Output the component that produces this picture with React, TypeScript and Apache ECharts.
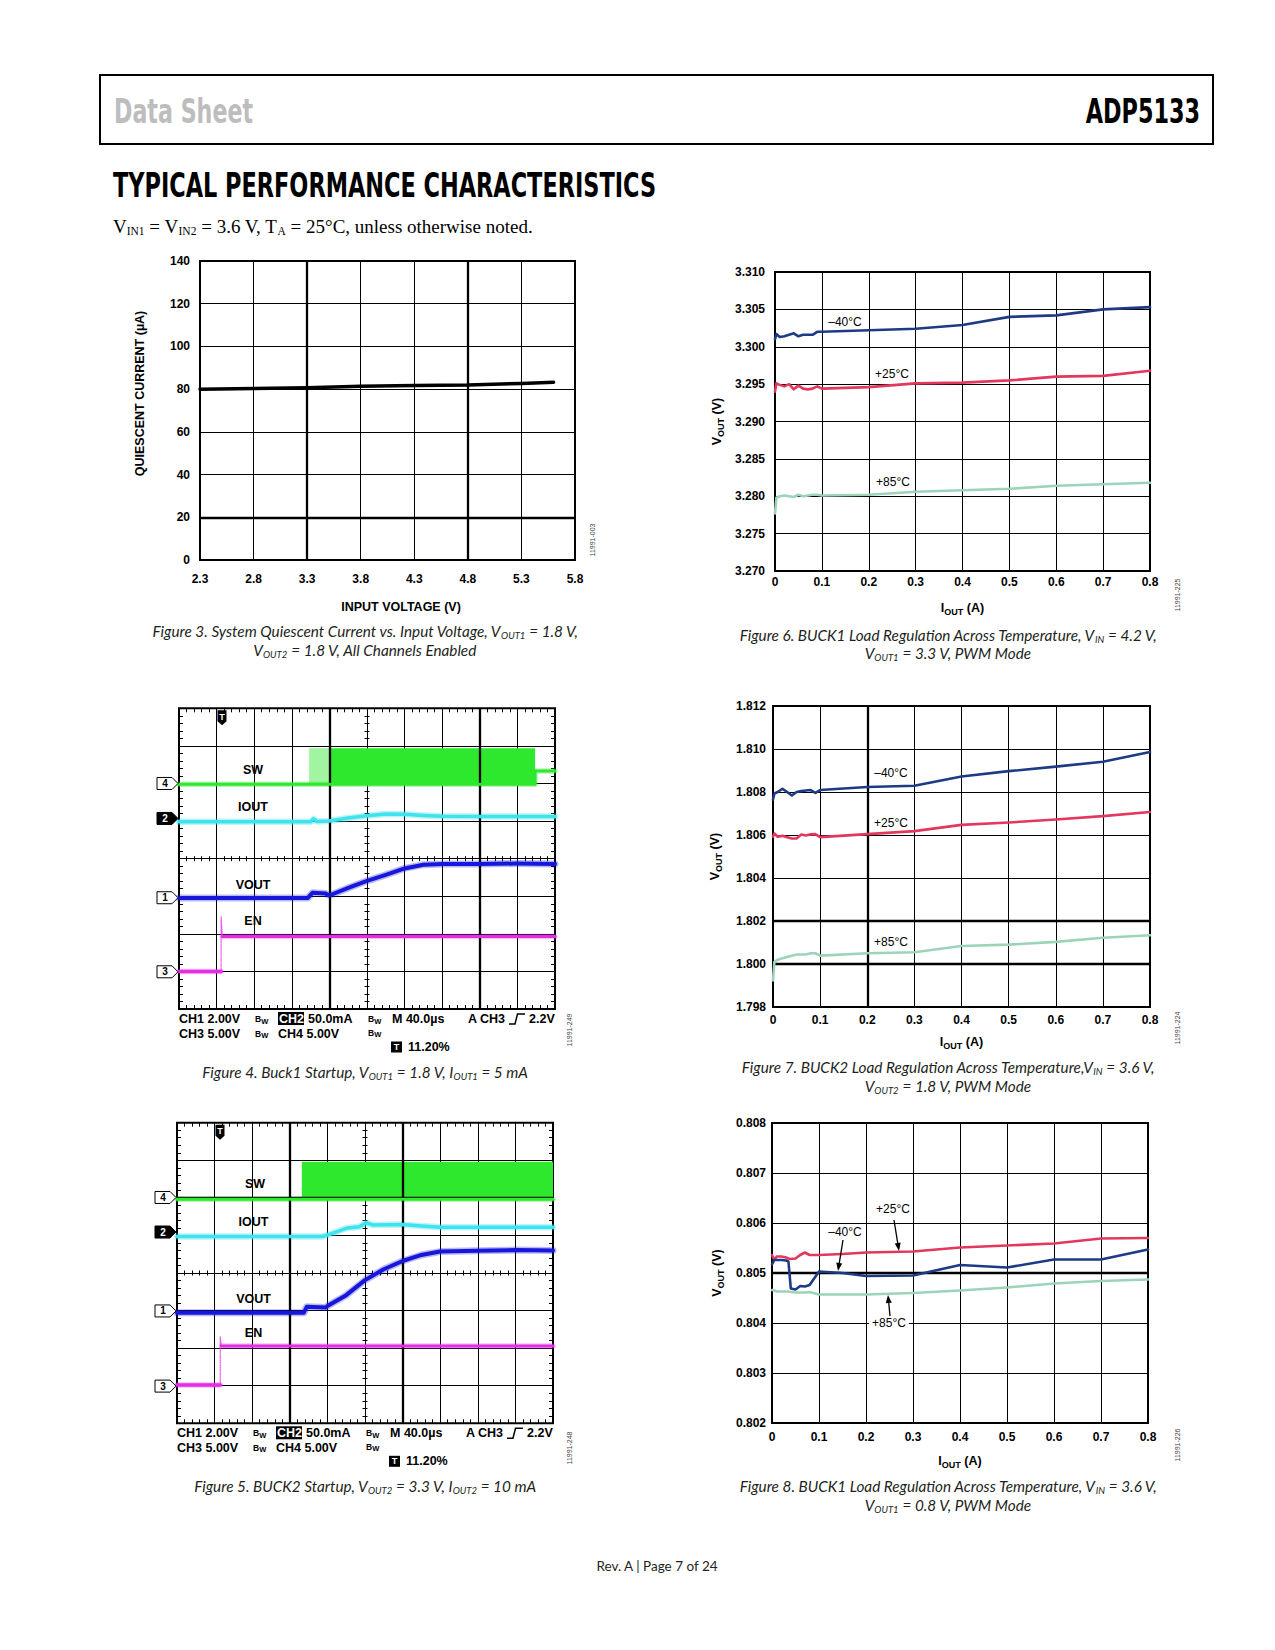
import React, { useEffect, useRef } from 'react';
import * as echarts from 'echarts';

// ---------------- Figure 3: quiescent current vs input voltage ----------------
const fig3Vin = [2.3, 2.8, 3.3, 3.8, 4.3, 4.8, 5.3, 5.6];
const fig3Iq = [80.0, 80.3, 80.7, 81.3, 81.7, 81.9, 82.7, 83.2];
const fig3XLabels = ['2.3', '2.8', '3.3', '3.8', '4.3', '4.8', '5.3', '5.8'];
const fig3YLabels = ['0', '20', '40', '60', '80', '100', '120', '140'];

// ---------------- Load regulation x labels ----------------
const ioutLabels = ['0', '0.1', '0.2', '0.3', '0.4', '0.5', '0.6', '0.7', '0.8'];

// ---------------- Figure 6: BUCK1 3.3 V ----------------
const f6Iout = [0, 0.003, 0.01, 0.02, 0.03, 0.04, 0.05, 0.06, 0.07, 0.08, 0.09, 0.1, 0.2, 0.3, 0.4, 0.5, 0.6, 0.7, 0.8];
const f6Vm40 = [3.3010, 3.3017, 3.3013, 3.3014, 3.3016, 3.3018, 3.3014, 3.3016, 3.3016, 3.3016, 3.3020, 3.3020, 3.3022, 3.3024, 3.3029, 3.3040, 3.3042, 3.3050, 3.3053];
const f6V25 = [3.2940, 3.2951, 3.2949, 3.2947, 3.2950, 3.2943, 3.2948, 3.2944, 3.2943, 3.2944, 3.2947, 3.2944, 3.2946, 3.2951, 3.2952, 3.2955, 3.2960, 3.2961, 3.2968];
const f6V85 = [3.2777, 3.2798, 3.2800, 3.2801, 3.2800, 3.2799, 3.2802, 3.2800, 3.2801, 3.2802, 3.2802, 3.2801, 3.2802, 3.2806, 3.2808, 3.2810, 3.2814, 3.2816, 3.2818];
const f6YLabels = ['3.270', '3.275', '3.280', '3.285', '3.290', '3.295', '3.300', '3.305', '3.310'];

// ---------------- Figure 7: BUCK2 1.8 V ----------------
const f7Iout = [0, 0.003, 0.01, 0.02, 0.03, 0.04, 0.05, 0.06, 0.07, 0.08, 0.09, 0.1, 0.2, 0.3, 0.4, 0.5, 0.6, 0.7, 0.8];
const f7Vm40 = [1.80765, 1.80793, 1.80800, 1.80815, 1.80800, 1.80784, 1.80800, 1.80804, 1.80807, 1.80809, 1.80796, 1.80809, 1.80823, 1.80829, 1.80872, 1.80897, 1.80918, 1.80941, 1.80986];
const f7V25 = [1.80592, 1.80607, 1.80592, 1.80596, 1.80590, 1.80584, 1.80584, 1.80602, 1.80598, 1.80603, 1.80604, 1.80590, 1.80604, 1.80618, 1.80647, 1.80658, 1.80672, 1.80688, 1.80707];
const f7V85 = [1.79924, 1.80010, 1.80020, 1.80027, 1.80033, 1.80038, 1.80044, 1.80044, 1.80044, 1.80050, 1.80050, 1.80039, 1.80050, 1.80055, 1.80084, 1.80090, 1.80103, 1.80122, 1.80134];
const f7YLabels = ['1.798', '1.800', '1.802', '1.804', '1.806', '1.808', '1.810', '1.812'];

// ---------------- Figure 8: BUCK1 0.8 V ----------------
const f8Iout = [0, 0.005, 0.01, 0.02, 0.03, 0.035, 0.04, 0.05, 0.06, 0.07, 0.08, 0.1, 0.15, 0.2, 0.3, 0.4, 0.5, 0.6, 0.7, 0.8];
const f8V25 = [0.80536, 0.80526, 0.80533, 0.80533, 0.80531, 0.80529, 0.80528, 0.80529, 0.80536, 0.80541, 0.80536, 0.80536, 0.80538, 0.80541, 0.80543, 0.80551, 0.80555, 0.80559, 0.80569, 0.80570];
const f8Vm40 = [0.80517, 0.80526, 0.80526, 0.80526, 0.80525, 0.80523, 0.80469, 0.80467, 0.80474, 0.80473, 0.80476, 0.80503, 0.80500, 0.80494, 0.80495, 0.80516, 0.80511, 0.80527, 0.80527, 0.80547];
const f8V85 = [0.80466, 0.80465, 0.80463, 0.80463, 0.80463, 0.80463, 0.80462, 0.80461, 0.80461, 0.80461, 0.80462, 0.80457, 0.80457, 0.80457, 0.80460, 0.80465, 0.80471, 0.80479, 0.80484, 0.80487];
const f8YLabels = ['0.802', '0.803', '0.804', '0.805', '0.806', '0.807', '0.808'];

// ---------------- Figure 4 scope (divisions: x 0..10, y 0..8) ----------------
const f4SwT = [0, 3.46, 9.47, 9.47, 10];
const f4SwV = [5.98, 5.98, 5.98, 6.33, 6.33];
const f4SwBursts = [[3.46, 3.99, 5.98, 6.94, 0.45], [3.99, 9.47, 5.98, 6.94, 1]];
const f4IoutT = [0, 3.5, 3.58, 3.66, 3.99, 4.5, 5.0, 5.5, 6.0, 6.5, 7.0, 8.0, 9.0, 10];
const f4IoutV = [4.98, 4.98, 5.06, 4.99, 5.0, 5.08, 5.14, 5.19, 5.18, 5.15, 5.13, 5.12, 5.12, 5.12];
const f4VoutT = [0, 3.42, 3.55, 3.9, 4.0, 4.5, 5.0, 5.5, 6.0, 6.5, 7.0, 8.0, 9.0, 10];
const f4VoutV = [2.95, 2.95, 3.09, 3.07, 3.02, 3.22, 3.41, 3.57, 3.74, 3.84, 3.86, 3.86, 3.87, 3.86];
const f4EnLowT = [0, 1.12];
const f4EnLowV = [1.0, 1.0];
const f4EnEdgeT = [1.12, 1.12, 1.15];
const f4EnEdgeV = [1.0, 2.46, 1.93];
const f4EnHighT = [1.15, 10];
const f4EnHighV = [1.93, 1.93];

// ---------------- Figure 5 scope ----------------
const f5SwT = [0, 3.32, 10];
const f5SwV = [5.96, 5.96, 5.96];
const f5SwBursts = [[3.32, 10, 5.96, 6.96, 1]];
const f5IoutT = [0, 3.86, 4.0, 4.5, 4.85, 5.03, 5.2, 6.0, 6.5, 7.0, 8.0, 9.0, 10];
const f5IoutV = [4.97, 4.97, 5.01, 5.19, 5.23, 5.34, 5.28, 5.29, 5.25, 5.22, 5.22, 5.22, 5.22];
const f5VoutT = [0, 3.37, 3.45, 3.95, 4.0, 4.5, 5.0, 5.5, 6.0, 6.5, 7.0, 8.0, 9.0, 10];
const f5VoutV = [2.94, 2.94, 3.1, 3.08, 3.12, 3.41, 3.81, 4.10, 4.32, 4.48, 4.57, 4.59, 4.61, 4.60];
const f5EnLowT = [0, 1.15];
const f5EnLowV = [1.02, 1.02];
const f5EnEdgeT = [1.15, 1.15, 1.18];
const f5EnEdgeV = [1.02, 2.3, 2.06];
const f5EnHighT = [1.18, 10];
const f5EnHighV = [2.06, 2.06];

// ---------------- styles ----------------
const FONT = '"Liberation Sans", Arial, Helvetica, sans-serif';
const NARROW = '"DejaVu Sans Condensed", "Liberation Sans", sans-serif';
const CAPF = 'Lato, "Noto Sans", sans-serif';
const SERIF = '"Liberation Serif", "DejaVu Serif", serif';
const C_M40 = '#1d3b85';
const C_25 = '#e2385d';
const C_85 = '#9dd4b9';
const C_SW = '#2ee82e';
const C_IOUT = '#3fe3ee';
const C_VOUT = '#1717dc';
const C_EN = '#e42ee4';

function sub(str: string) {
  return str
    .split(/(_\{[^}]*\})/)
    .filter((s) => s.length)
    .map((s) => (s.startsWith('_{') ? `{s|${s.slice(2, -1)}}` : `{m|${s}}`))
    .join('');
}

function txt(text: string, x: number, y: number, opt: any = {}) {
  return {
    type: 'text',
    x,
    y,
    z: 100,
    rotation: opt.rotation || 0,
    scaleX: opt.scaleX || 1,
    style: {
      text,
      fill: opt.color || '#000',
      fontFamily: opt.family || FONT,
      fontSize: opt.size || 12,
      fontWeight: opt.weight || 'normal',
      fontStyle: opt.fstyle || 'normal',
      align: opt.align || 'center',
      verticalAlign: opt.valign || 'middle',
      textAlign: opt.align || 'center',
      textVerticalAlign: opt.valign || 'middle',
      backgroundColor: opt.bg,
      padding: opt.pad,
      rich: opt.rich,
    },
  };
}

function caption(text: string, cx: number, cy: number) {
  return txt(sub(text), cx, cy, {
    rich: {
      m: { fontFamily: CAPF, fontStyle: 'italic', fontSize: 15.3, lineHeight: 19, fill: '#231f20' },
      s: { fontFamily: CAPF, fontStyle: 'italic', fontSize: 9.5, lineHeight: 12, verticalAlign: 'bottom', fill: '#231f20' },
    },
  });
}

function idTag(text: string, x: number, y: number) {
  return txt(text, x, y, { size: 7, color: '#444', rotation: Math.PI / 2 });
}

function arrow(x1: number, y1: number, x2: number, y2: number) {
  const dx = x2 - x1;
  const dy = y2 - y1;
  const L = Math.hypot(dx, dy);
  const ux = dx / L;
  const uy = dy / L;
  const hl = 8;
  const hw = 3;
  const bx = x2 - ux * hl;
  const by = y2 - uy * hl;
  return [
    { type: 'line', z: 100, shape: { x1, y1, x2: bx, y2: by }, style: { stroke: '#000', lineWidth: 1.3 } },
    {
      type: 'polygon',
      z: 100,
      shape: { points: [[x2, y2], [bx - uy * hw, by + ux * hw], [bx + uy * hw, by - ux * hw]] },
      style: { fill: '#000' },
    },
  ];
}

const nameRich = {
  m: { fontFamily: FONT, fontWeight: 'bold', fontSize: 12.5, lineHeight: 16, color: '#000' },
  s: { fontFamily: FONT, fontWeight: 'bold', fontSize: 9, lineHeight: 10, verticalAlign: 'bottom', color: '#000' },
};

function addPlot(o: any, c: any) {
  const gi = o.grid.length;
  o.grid.push({
    left: c.left, top: c.top, width: c.width, height: c.height,
    show: true, borderColor: '#000', borderWidth: 2, backgroundColor: 'rgba(0,0,0,0)',
    containLabel: false, outerBoundsMode: 'none',
  });
  const lbl = (labels: string[], step: number, margin: number) => ({
    margin, color: '#000', fontFamily: FONT, fontWeight: 'bold', fontSize: 12, hideOverlap: false,
    formatter: (v: number) => labels[Math.round(v / step)] ?? '',
  });
  const xi = o.xAxis.length;
  o.xAxis.push({
    type: 'value', gridIndex: gi, min: 0, max: c.xMax, interval: c.xInt,
    axisLine: { show: false, onZero: false }, axisTick: { show: false },
    splitLine: { show: true, lineStyle: { color: '#000', width: 1 } },
    axisLabel: lbl(c.xLabels, c.xInt, c.xLabelMargin),
    name: c.xName, nameLocation: 'middle', nameGap: c.xNameGap, nameMoveOverlap: false,
    nameTextStyle: { color: '#000', fontFamily: FONT, fontWeight: 'bold', fontSize: 12.5, padding: [0, 0, 0, c.xPad || 0], rich: nameRich },
  });
  const yi = o.yAxis.length;
  o.yAxis.push({
    type: 'value', gridIndex: gi, min: 0, max: c.yMax, interval: c.yInt,
    axisLine: { show: false, onZero: false }, axisTick: { show: false },
    splitLine: { show: true, lineStyle: { color: '#000', width: 1 } },
    axisLabel: lbl(c.yLabels, c.yInt, c.yLabelMargin),
    name: c.yName, nameLocation: 'middle', nameGap: c.yNameGap, nameMoveOverlap: false,
    nameTextStyle: { color: '#000', fontFamily: FONT, fontWeight: 'bold', fontSize: 12.5, padding: [0, 0, 0, c.yPad || 0], rich: nameRich },
  });
  if (c.thickX.length || c.thickY.length) {
    o.series.push({
      type: 'line', xAxisIndex: xi, yAxisIndex: yi, data: [[0, 0]], symbol: 'none',
      lineStyle: { opacity: 0 }, silent: true, z: 2,
      markLine: {
        silent: true, symbol: ['none', 'none'], label: { show: false }, animation: false,
        lineStyle: { color: '#000', width: 2.3, type: 'solid' },
        data: [...c.thickX.map((v: number) => ({ xAxis: v })), ...c.thickY.map((v: number) => ({ yAxis: v }))],
      },
    });
  }
  return { xi, yi };
}

function addCurve(o: any, xi: number, yi: number, data: number[][], color: string, width: number, extra: any = {}) {
  o.series.push({
    type: 'line', xAxisIndex: xi, yAxisIndex: yi, data, symbol: 'none', silent: true, z: extra.z || 5,
    lineStyle: { color, width, cap: 'round', join: 'round', ...(extra.lineStyle || {}) },
    itemStyle: { color },
  });
}

function addScope(o: any, c: any) {
  const gi = o.grid.length;
  o.grid.push({
    left: c.left, top: c.top, width: c.width, height: c.height,
    show: true, borderColor: '#000', borderWidth: 2, backgroundColor: 'rgba(0,0,0,0)',
    containLabel: false, outerBoundsMode: 'none',
  });
  const tick = (inside: boolean, len: number) => ({ show: true, inside, length: len, lineStyle: { color: '#000', width: 1 } });
  const minor = (len: number) => ({ show: true, splitNumber: 5, length: len, lineStyle: { color: '#000', width: 1 } });
  const base = { type: 'value', gridIndex: gi, interval: 1, axisLabel: { show: false }, axisLine: { show: false, onZero: false }, splitLine: { show: false } };
  const grid1 = { show: true, lineStyle: { color: '#000', width: 1 } };
  const xi = o.xAxis.length;
  o.xAxis.push({ ...base, min: 0, max: 10, position: 'bottom', splitLine: grid1, axisTick: tick(true, 4), minorTick: minor(4) });
  o.xAxis.push({ ...base, min: 0, max: 10, position: 'top', axisTick: tick(true, 4), minorTick: minor(4) });
  o.xAxis.push({ ...base, min: 0, max: 10, position: 'bottom', offset: -c.height / 2, axisTick: tick(true, 2.5), minorTick: minor(2.5) });
  o.xAxis.push({ ...base, min: 0, max: 10, position: 'bottom', offset: -c.height / 2, axisTick: tick(false, 2.5), minorTick: minor(2.5) });
  const yi = o.yAxis.length;
  o.yAxis.push({ ...base, min: 0, max: 8, position: 'left', splitLine: grid1, axisTick: tick(true, 4), minorTick: minor(4) });
  o.yAxis.push({ ...base, min: 0, max: 8, position: 'right', axisTick: tick(true, 4), minorTick: minor(4) });
  o.yAxis.push({ ...base, min: 0, max: 8, position: 'left', offset: -c.width / 2, axisTick: tick(true, 2.5), minorTick: minor(2.5) });
  o.yAxis.push({ ...base, min: 0, max: 8, position: 'left', offset: -c.width / 2, axisTick: tick(false, 2.5), minorTick: minor(2.5) });

  o.series.push({
    type: 'line', xAxisIndex: xi, yAxisIndex: yi, data: [[0, 0]], symbol: 'none',
    lineStyle: { opacity: 0 }, silent: true, z: 2,
    markLine: {
      silent: true, symbol: ['none', 'none'], label: { show: false }, animation: false,
      lineStyle: { color: '#000', width: 2.3, type: 'solid' },
      data: [...c.thickX.map((v: number) => ({ xAxis: v })), ...c.thickY.map((v: number) => ({ yAxis: v }))],
    },
  });

  // SW switching bursts
  o.series.push({
    type: 'custom', xAxisIndex: xi, yAxisIndex: yi, silent: true, z: 4, data: c.swBursts,
    renderItem: (params: any, api: any) => {
      const a = api.coord([api.value(0), api.value(3)]);
      const b = api.coord([api.value(1), api.value(2)]);
      return {
        type: 'rect',
        shape: { x: a[0], y: a[1], width: b[0] - a[0], height: b[1] - a[1] },
        style: { fill: C_SW, opacity: api.value(4) },
      };
    },
  });
  const zip = (t: number[], v: number[]) => t.map((x, i) => [x, v[i]]);
  // soft halo behind each trace (scope noise band)
  addCurve(o, xi, yi, zip(c.ioutT, c.ioutV), C_IOUT, 6.5, { z: 4, lineStyle: { opacity: 0.35 } });
  addCurve(o, xi, yi, zip(c.voutT, c.voutV), C_VOUT, 7, { z: 4, lineStyle: { opacity: 0.3 } });
  addCurve(o, xi, yi, zip(c.enHighT, c.enHighV), C_EN, 5.5, { z: 4, lineStyle: { opacity: 0.3 } });
  addCurve(o, xi, yi, zip(c.enLowT, c.enLowV), C_EN, 5.5, { z: 4, lineStyle: { opacity: 0.3 } });
  addCurve(o, xi, yi, zip(c.swT, c.swV), C_SW, 5.5, { z: 4, lineStyle: { opacity: 0.35 } });

  addCurve(o, xi, yi, zip(c.swT, c.swV), C_SW, 3);
  addCurve(o, xi, yi, zip(c.ioutT, c.ioutV), C_IOUT, 3.5);
  addCurve(o, xi, yi, zip(c.voutT, c.voutV), C_VOUT, 4);
  addCurve(o, xi, yi, zip(c.enLowT, c.enLowV), C_EN, 3.5);
  addCurve(o, xi, yi, zip(c.enEdgeT, c.enEdgeV), C_EN, 1.2, { lineStyle: { type: 'dotted', opacity: 0.8 } });
  addCurve(o, xi, yi, zip(c.enHighT, c.enHighV), C_EN, 3);

  // decorations
  const L = c.left;
  const T = c.top;
  const B = c.top + c.height;
  const div = c.height / 8;
  const g = o.graphic;
  c.markers.forEach((m: any) => {
    const y = B - m[1] * div;
    g.push({
      type: 'polygon', z: 100,
      shape: { points: [[L - 22, y - 6], [L - 7, y - 6], [L - 1, y], [L - 7, y + 6], [L - 22, y + 6]] },
      style: { fill: m[2] ? '#000' : '#fff', stroke: '#000', lineWidth: 1 },
    });
    g.push(txt(m[0], L - 14, y, { size: 10, weight: 'bold', color: m[2] ? '#fff' : '#000' }));
  });
  c.labels.forEach((lb: any) => g.push(txt(lb[0], L + lb[1], T + lb[2], { size: 12.5, weight: 'bold' })));
  // trigger marker
  const cx = L + 43;
  g.push({
    type: 'polygon', z: 100,
    shape: { points: [[cx - 4.5, T + 2], [cx + 4.5, T + 2], [cx + 4.5, T + 13], [cx, T + 17], [cx - 4.5, T + 13]] },
    style: { fill: '#000' },
  });
  g.push(txt('T', cx, T + 8.5, { size: 9, weight: 'bold', color: '#fff' }));

  // status rows
  const r1 = B + 10;
  const r2 = B + 24.5;
  const r3 = B + 38;
  const bw = (x: number, y: number) =>
    txt('{b|B}{w|W}', x, y, {
      align: 'left',
      rich: {
        b: { fontFamily: FONT, fontWeight: 'bold', fontSize: 8.5, lineHeight: 12, fill: '#000' },
        w: { fontFamily: FONT, fontWeight: 'bold', fontSize: 7.5, lineHeight: 8, verticalAlign: 'bottom', fill: '#000' },
      },
    });
  const st = (s: string, x: number, y: number, color = '#000') => txt(s, x, y, { align: 'left', size: 12.5, weight: 'bold', color });
  g.push(st('CH1 2.00V', L, r1));
  g.push(bw(L + 76, r1));
  g.push({ type: 'rect', z: 99, shape: { x: L + 99, y: r1 - 7, width: 26, height: 13 }, style: { fill: '#000' } });
  g.push(st('CH2', L + 100, r1, '#fff'));
  g.push(st('50.0mA', L + 129, r1));
  g.push(bw(L + 189, r1));
  g.push(st('M 40.0µs', L + 213, r1));
  g.push(st('A CH3', L + 289, r1));
  g.push({
    type: 'polyline', z: 100,
    shape: { points: [[L + 330, r1 + 5], [L + 336, r1 + 5], [L + 338.5, r1 - 5], [L + 346, r1 - 5]] },
    style: { stroke: '#000', lineWidth: 1.5, fill: null },
  });
  g.push(st('2.2V', L + 350, r1));
  g.push(st('CH3 5.00V', L, r2));
  g.push(bw(L + 76, r2));
  g.push(st('CH4 5.00V', L + 99, r2));
  g.push(bw(L + 189, r2 - 1));
  g.push({ type: 'rect', z: 99, shape: { x: L + 212, y: r3 - 5.5, width: 11, height: 11 }, style: { fill: '#000' } });
  g.push(txt('T', L + 217.5, r3, { size: 9, weight: 'bold', color: '#fff' }));
  g.push(st('11.20%', L + 229, r3));
}

function buildOption() {
  const o: any = { animation: false, backgroundColor: '#fff', grid: [], xAxis: [], yAxis: [], series: [], graphic: [] };
  const g = o.graphic;

  // header
  g.push({ type: 'rect', z: 100, shape: { x: 100, y: 75, width: 1113, height: 69 }, style: { fill: 'rgba(0,0,0,0)', stroke: '#000', lineWidth: 2 } });
  g.push(txt('Data Sheet', 114, 111, { align: 'left', family: NARROW, size: 34, weight: 'bold', color: '#bdbdbd', scaleX: 0.725 }));
  g.push(txt('ADP5133', 1200, 111, { align: 'right', family: NARROW, size: 34, weight: 'bold', color: '#000', scaleX: 0.73 }));
  g.push(txt('TYPICAL PERFORMANCE CHARACTERISTICS', 113, 186, { align: 'left', family: NARROW, size: 33, weight: 'bold', color: '#000', scaleX: 0.755 }));
  g.push(
    txt('{r|V}{s|IN1}{r| = V}{s|IN2}{r| = 3.6 V, T}{s|A}{r| = 25°C, unless otherwise noted.}', 113, 226, {
      align: 'left',
      rich: {
        r: { fontFamily: SERIF, fontSize: 19, lineHeight: 22, fill: '#000' },
        s: { fontFamily: SERIF, fontSize: 11.5, lineHeight: 13, verticalAlign: 'bottom', fill: '#000' },
      },
    })
  );

  // Figure 3
  const p3 = addPlot(o, {
    left: 200, top: 261, width: 375, height: 299,
    xMax: 3.5, xInt: 0.5, xLabels: fig3XLabels, yMax: 140, yInt: 20, yLabels: fig3YLabels,
    xName: '{m|INPUT VOLTAGE (V)}', yName: '{m|QUIESCENT CURRENT (µA)}',
    xNameGap: 39, yNameGap: 52, xLabelMargin: 13, yLabelMargin: 10, xPad: 27, yPad: 34,
    thickX: [1.0, 2.5], thickY: [20],
  });
  addCurve(o, p3.xi, p3.yi, fig3Vin.map((v, i) => [v - 2.3, fig3Iq[i]]), '#000', 3.5);

  // Figure 6
  const ioutName = '{m|I}{s|OUT}{m| (A)}';
  const voutName = '{m|V}{s|OUT}{m| (V)}';
  const p6 = addPlot(o, {
    left: 775, top: 272, width: 375, height: 299,
    xMax: 0.8, xInt: 0.1, xLabels: ioutLabels, yMax: 40, yInt: 5, yLabels: f6YLabels,
    xName: ioutName, yName: voutName, xNameGap: 29, yNameGap: 50, xLabelMargin: 5, yLabelMargin: 10,
    thickX: [], thickY: [],
  });
  const t6 = (v: number) => (v - 3.27) * 1000;
  addCurve(o, p6.xi, p6.yi, f6Iout.map((x, i) => [x, t6(f6V85[i])]), C_85, 2.6);
  addCurve(o, p6.xi, p6.yi, f6Iout.map((x, i) => [x, t6(f6V25[i])]), C_25, 2.6);
  addCurve(o, p6.xi, p6.yi, f6Iout.map((x, i) => [x, t6(f6Vm40[i])]), C_M40, 2.6);
  g.push(txt('–40°C', 845, 322));
  g.push(txt('+25°C', 892, 374));
  g.push(txt('+85°C', 893, 482));

  // Figure 7
  const p7 = addPlot(o, {
    left: 773, top: 706, width: 377, height: 301,
    xMax: 0.8, xInt: 0.1, xLabels: ioutLabels, yMax: 14, yInt: 2, yLabels: f7YLabels,
    xName: ioutName, yName: voutName, xNameGap: 27, yNameGap: 50, xLabelMargin: 7, yLabelMargin: 7,
    thickX: [0.2], thickY: [2, 4],
  });
  const t7 = (v: number) => (v - 1.798) * 1000;
  addCurve(o, p7.xi, p7.yi, f7Iout.map((x, i) => [x, t7(f7V85[i])]), C_85, 2.6);
  addCurve(o, p7.xi, p7.yi, f7Iout.map((x, i) => [x, t7(f7V25[i])]), C_25, 2.6);
  addCurve(o, p7.xi, p7.yi, f7Iout.map((x, i) => [x, t7(f7Vm40[i])]), C_M40, 2.6);
  g.push(txt('–40°C', 891, 773));
  g.push(txt('+25°C', 891, 823));
  g.push(txt('+85°C', 891, 942));

  // Figure 8
  const p8 = addPlot(o, {
    left: 772, top: 1123, width: 376, height: 300,
    xMax: 0.8, xInt: 0.1, xLabels: ioutLabels, yMax: 6, yInt: 1, yLabels: f8YLabels,
    xName: ioutName, yName: voutName, xNameGap: 30, yNameGap: 47, xLabelMargin: 7.5, yLabelMargin: 6,
    thickX: [], thickY: [3],
  });
  const t8 = (v: number) => (v - 0.802) * 1000;
  addCurve(o, p8.xi, p8.yi, f8Iout.map((x, i) => [x, t8(f8V85[i])]), C_85, 2.6);
  addCurve(o, p8.xi, p8.yi, f8Iout.map((x, i) => [x, t8(f8V25[i])]), C_25, 2.6);
  addCurve(o, p8.xi, p8.yi, f8Iout.map((x, i) => [x, t8(f8Vm40[i])]), C_M40, 2.6);
  g.push(txt('+25°C', 893, 1209));
  g.push(txt('–40°C', 845, 1232));
  g.push(txt('+85°C', 889, 1323, { bg: '#fff', pad: [1, 3, 1, 3] }));
  g.push(...arrow(894, 1220, 899, 1251));
  g.push(...arrow(843, 1240, 838, 1271));
  g.push(...arrow(890, 1316, 888, 1295));

  // Figure 4 scope
  addScope(o, {
    left: 179, top: 708.3, width: 376, height: 300.7,
    thickX: [4, 8], thickY: [],
    swT: f4SwT, swV: f4SwV, swBursts: f4SwBursts,
    ioutT: f4IoutT, ioutV: f4IoutV, voutT: f4VoutT, voutV: f4VoutV,
    enLowT: f4EnLowT, enLowV: f4EnLowV, enEdgeT: f4EnEdgeT, enEdgeV: f4EnEdgeV, enHighT: f4EnHighT, enHighV: f4EnHighV,
    markers: [['4', 6.0, false], ['2', 5.07, true], ['1', 2.96, false], ['3', 0.99, false]],
    labels: [['SW', 74, 62], ['IOUT', 74, 98.5], ['VOUT', 74, 176.5], ['EN', 74, 212.5]],
  });

  // Figure 5 scope
  addScope(o, {
    left: 177, top: 1122.7, width: 376, height: 300.6,
    thickX: [3, 6], thickY: [6],
    swT: f5SwT, swV: f5SwV, swBursts: f5SwBursts,
    ioutT: f5IoutT, ioutV: f5IoutV, voutT: f5VoutT, voutV: f5VoutV,
    enLowT: f5EnLowT, enLowV: f5EnLowV, enEdgeT: f5EnEdgeT, enEdgeV: f5EnEdgeV, enHighT: f5EnHighT, enHighV: f5EnHighV,
    markers: [['4', 6.01, false], ['2', 5.09, true], ['1', 2.99, false], ['3', 0.99, false]],
    labels: [['SW', 78, 61.5], ['IOUT', 76.5, 99.5], ['VOUT', 76.5, 176.5], ['EN', 76.5, 210]],
  });

  // captions
  g.push(caption('Figure 3. System Quiescent Current vs. Input Voltage, V_{OUT1} = 1.8 V,', 365, 631));
  g.push(caption('V_{OUT2} = 1.8 V, All Channels Enabled', 365, 650));
  g.push(caption('Figure 4. Buck1 Startup, V_{OUT1} = 1.8 V, I_{OUT1} = 5 mA', 365, 1072));
  g.push(caption('Figure 5. BUCK2 Startup, V_{OUT2} = 3.3 V, I_{OUT2} = 10 mA', 365, 1486));
  g.push(caption('Figure 6. BUCK1 Load Regulation Across Temperature, V_{IN} = 4.2 V,', 948, 635));
  g.push(caption('V_{OUT1} = 3.3 V, PWM Mode', 948, 653));
  g.push(caption('Figure 7. BUCK2 Load Regulation Across Temperature,V_{IN} = 3.6 V,', 948, 1067));
  g.push(caption('V_{OUT2} = 1.8 V, PWM Mode', 948, 1086));
  g.push(caption('Figure 8. BUCK1 Load Regulation Across Temperature, V_{IN} = 3.6 V,', 948, 1486));
  g.push(caption('V_{OUT1} = 0.8 V, PWM Mode', 948, 1505));

  // id tags
  g.push(idTag('11991-003', 592, 540));
  g.push(idTag('11991-225', 1177, 595));
  g.push(idTag('11991-224', 1177, 1028));
  g.push(idTag('11991-226', 1177, 1445));
  g.push(idTag('11991-249', 569, 1030));
  g.push(idTag('11991-248', 569, 1448));

  // footer
  g.push(txt('Rev. A | Page 7 of 24', 657, 1566, { family: CAPF, size: 13.5, color: '#231f20' }));

  return o;
}

export default function App() {
  const ref = useRef<HTMLDivElement>(null);
  useEffect(() => {
    const chart = echarts.init(ref.current as HTMLDivElement, null, { renderer: 'svg', width: 1275, height: 1650 });
    chart.setOption(buildOption());
    return () => chart.dispose();
  }, []);
  return (
    <div
      ref={ref}
      style={{ position: 'absolute', left: 0, top: 0, width: 1275, height: 1650, background: '#fff' }}
    />
  );
}
